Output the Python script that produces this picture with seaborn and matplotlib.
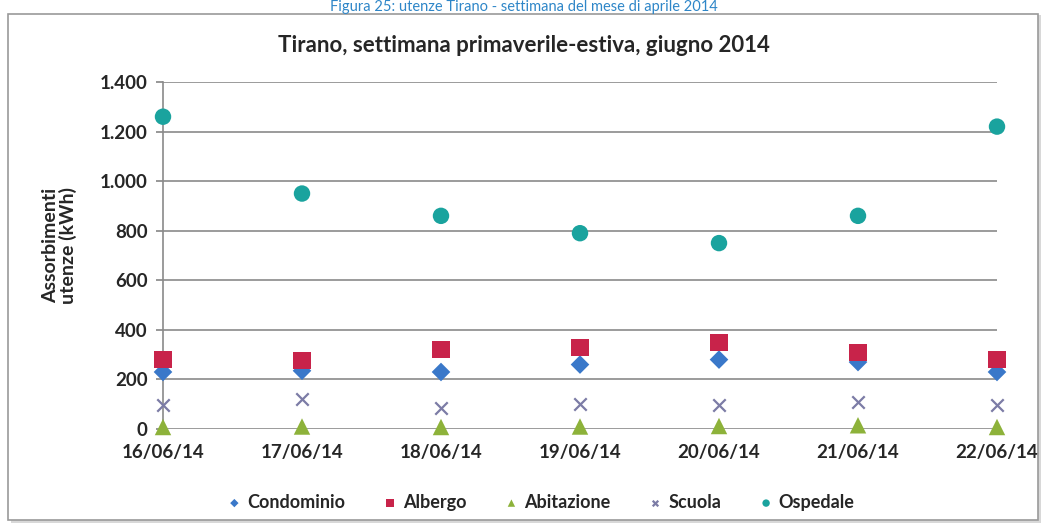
import pandas as pd
import seaborn as sns
import matplotlib.pyplot as plt
from matplotlib.patches import Rectangle
from matplotlib.ticker import FuncFormatter

# dati (kWh)
giorni = ['16/06/14', '17/06/14', '18/06/14', '19/06/14', '20/06/14', '21/06/14', '22/06/14']
condominio = [230, 235, 230, 260, 280, 270, 230]
albergo = [280, 275, 320, 330, 350, 310, 280]
abitazione = [8, 10, 8, 10, 12, 15, 8]
scuola = [95, 120, 85, 100, 95, 110, 95]
ospedale = [1260, 950, 860, 790, 750, 860, 1220]

serie = ['Condominio', 'Albergo', 'Abitazione', 'Scuola', 'Ospedale']
colori = ['#3A78C9', '#C8234A', '#8DB23A', '#7C7CA6', '#1AA39E']
marcatori = ['D', 's', '^', 'x', 'o']

df = pd.DataFrame({
    'giorno': giorni * 5,
    'x': list(range(len(giorni))) * 5,
    'valore': condominio + albergo + abitazione + scuola + ospedale,
    'utenza': sum([[s] * len(giorni) for s in serie], []),
})

sns.set_theme(style='white')
plt.rcParams['font.family'] = ['Lato', 'DejaVu Sans']
plt.rcParams['font.weight'] = 'bold'

fig = plt.figure(figsize=(10.48, 5.27), dpi=100)
fig.patch.set_facecolor('white')

# cornice del grafico (sotto gli assi)
fig.patches.append(Rectangle((11 / 1048, 4 / 527), 1030 / 1048, 508 / 527,
                             transform=fig.transFigure, facecolor='#d8d8d8',
                             edgecolor='none', zorder=-2))
fig.patches.append(Rectangle((8 / 1048, 7 / 527), 1030 / 1048, 506 / 527,
                             transform=fig.transFigure, facecolor='white',
                             edgecolor='#9a9a9a', linewidth=1.2, zorder=-1))

ax = fig.add_axes([163 / 1048, 1 - 429 / 527, 834 / 1048, 347 / 527])
ax.set_facecolor('none')

dimensioni = {'Condominio': 90, 'Albergo': 150, 'Abitazione': 140, 'Scuola': 80, 'Ospedale': 140}
for s, c, m in zip(serie, colori, marcatori):
    sub = df[df['utenza'] == s]
    kw = dict(edgecolor='none') if m != 'x' else dict(linewidth=1.6)
    sns.scatterplot(data=sub, x='x', y='valore', color=c, marker=m,
                    s=dimensioni[s], ax=ax, clip_on=False, zorder=3, label=s, **kw)

ax.set_xlim(0, len(giorni) - 1)
ax.set_ylim(0, 1400)
ax.set_yticks(range(0, 1401, 200))
ax.yaxis.set_major_formatter(FuncFormatter(lambda v, p: f'{int(v):,}'.replace(',', '.')))
ax.set_xticks(range(len(giorni)))
ax.set_xticklabels(giorni, fontweight='bold')
ax.grid(axis='y', color='#8a8a8a', linewidth=1.2)
ax.set_axisbelow(True)
for lato in ['top', 'right', 'bottom']:
    ax.spines[lato].set_visible(False)
ax.spines['left'].set_color('#8a8a8a')
ax.spines['left'].set_linewidth(1.2)
ax.tick_params(axis='y', left=True, length=5, color='#8a8a8a', labelsize=13.5, pad=6)
ax.tick_params(axis='x', bottom=False, labelsize=13.5, pad=5)

ax.set_xlabel('')
ax.set_ylabel('Assorbimenti\nutenze (kWh)', fontsize=14, fontweight='bold', linespacing=1.0)
ax.yaxis.set_label_coords(-0.103, 0.53)

ax.legend(loc='upper center', bbox_to_anchor=(0.452, -0.14), ncol=5, frameon=False,
          markerscale=0.45, handletextpad=0.2, handlelength=1.0, columnspacing=2.0,
          prop={'weight': 'bold', 'size': 13})

fig.text(0.5, 1 - 45 / 527, 'Tirano, settimana primaverile-estiva, giugno 2014',
         ha='center', va='center', fontsize=16, fontweight='bold')
fig.text(0.5, 1 - 0.5 / 527, 'Figura 25: utenze Tirano - settimana del mese di aprile 2014',
         ha='center', va='top', fontsize=10.5, fontweight='normal', color='#2E86C8')

fig.savefig('out.png', dpi=100)
